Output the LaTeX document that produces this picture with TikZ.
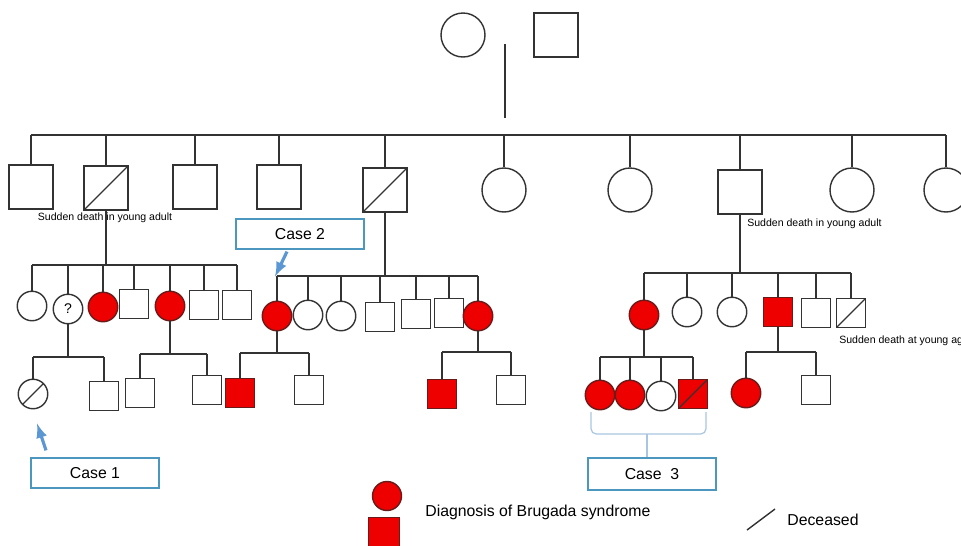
\documentclass[tikz,border=0pt]{standalone}
\usepackage{fontspec}
\setmainfont{Liberation Sans}
\usepackage{tikz}

\definecolor{linegray}{HTML}{333333}
\definecolor{bred}{HTML}{EE0000}
\definecolor{redline}{HTML}{6B1A1A}
\definecolor{boxblue}{HTML}{4C97C0}
\definecolor{arrowblue}{HTML}{5B97D2}
\definecolor{braceblue}{HTML}{A8C6E2}

\tikzset{
	kin/.style={linegray, line width=0.8pt},
	male/.style={draw=linegray, rectangle, line width=0.8pt, inner sep=0pt},
	female/.style={draw=linegray, circle, line width=0.8pt, inner sep=0pt},
	bigsym/.style={minimum size=0.88cm},
	smallsym/.style={minimum size=0.59cm},
	affected/.style={fill=bred, draw=redline},
	deceased/.style={path picture={\draw[linegray, line width=0.7pt] (path picture bounding box.south west) -- (path picture bounding box.north east);}},
	note/.style={font=\fontsize{6}{7}\selectfont, inner sep=0pt},
	casebox/.style={draw=boxblue, line width=0.7pt, minimum width=2.56cm, minimum height=0.6cm, font=\fontsize{9}{11}\selectfont},
	casearrow/.style={arrowblue, line width=1.8pt, ->, >=latex},
	legend/.style={font=\fontsize{9}{11}\selectfont, inner sep=0pt, anchor=west},
}

\begin{document}
\begin{tikzpicture}[x=0.02cm, y=-0.02cm]
\useasboundingbox (0,0) rectangle (961,545);
\clip (0,0) rectangle (961,545);

\node[female, bigsym] (gm) at (463,35) {};
\node[male, bigsym] (gf) at (556,35) {};
\coordinate (top) at (505,44);
\coordinate (topend) at (505,118);
\draw[kin] (top) -- (topend);

\coordinate (g2l) at (31,135);
\coordinate (g2r) at (946,135);
\draw[kin] (g2l) -- (g2r);

\node[male, bigsym] (b1) at (31,187) {};
\node[male, bigsym, deceased] (b2) at (106,188) {};
\node[male, bigsym] (b3) at (195,187) {};
\node[male, bigsym] (b4) at (279,187) {};
\node[male, bigsym, deceased] (b5) at (385,190) {};
\node[female, bigsym] (b6) at (504,190) {};
\node[female, bigsym] (b7) at (630,190) {};
\node[male, bigsym] (b8) at (740,192) {};
\node[female, bigsym] (b9) at (852,190) {};
\node[female, bigsym] (b10) at (946,190) {};
\foreach \n in {b1, b2, b3, b4, b5, b6, b7, b8, b9, b10} {
	\draw[kin] (\n.north) -- (\n.north |- g2l);
}

\node[note] (sd1) at (105,218) {Sudden death in young adult};
\node[note, anchor=west] (sd2) at (747,224) {Sudden death in young adult};

\coordinate (l3l) at (32,265);
\coordinate (l3r) at (237,265);
\draw[kin] (b2.south) -- (b2.south |- l3l);
\draw[kin] (l3l) -- (l3r);

\node[female, smallsym] (c1) at (32,306) {};
\node[female, smallsym, font=\fontsize{8}{9}\selectfont] (c2) at (68,309) {?};
\node[female, smallsym, affected] (c3) at (103,307) {};
\node[male, smallsym] (c4) at (134,304) {};
\node[female, smallsym, affected] (c5) at (170,306) {};
\node[male, smallsym] (c6) at (204,305) {};
\node[male, smallsym] (c7) at (237,305) {};
\foreach \n in {c1, c2, c3, c4, c5, c6, c7} {
	\draw[kin] (\n.north) -- (\n.north |- l3l);
}

\coordinate (l4a) at (33,357);
\coordinate (l4b) at (104,357);
\draw[kin] (c2.south) -- (c2.south |- l4a);
\draw[kin] (l4a) -- (l4b);
\node[female, smallsym, deceased] (d1) at (33,394) {};
\node[male, smallsym] (d2) at (104,396) {};

\coordinate (l4c) at (140,354);
\coordinate (l4d) at (207,354);
\draw[kin] (c5.south) -- (c5.south |- l4c);
\draw[kin] (l4c) -- (l4d);
\node[male, smallsym] (d3) at (140,393) {};
\node[male, smallsym] (d4) at (207,390) {};
\foreach \n/\b in {d1/l4a, d2/l4a, d3/l4c, d4/l4c} {
	\draw[kin] (\n.north) -- (\n.north |- \b);
}

\coordinate (m3l) at (277,276);
\coordinate (m3r) at (478,276);
\draw[kin] (b5.south) -- (b5.south |- m3l);
\draw[kin] (m3l) -- (m3r);

\node[female, smallsym, affected] (m1) at (277,316) {};
\node[female, smallsym] (m2) at (308,315) {};
\node[female, smallsym] (m3) at (341,316) {};
\node[male, smallsym] (m4) at (380,317) {};
\node[male, smallsym] (m5) at (416,314) {};
\node[male, smallsym] (m6) at (449,313) {};
\node[female, smallsym, affected] (m7) at (478,316) {};
\foreach \n in {m1, m2, m3, m4, m5, m6, m7} {
	\draw[kin] (\n.north) -- (\n.north |- m3l);
}

\coordinate (m4a) at (240,353);
\coordinate (m4b) at (309,353);
\draw[kin] (m1.south) -- (m1.south |- m4a);
\draw[kin] (m4a) -- (m4b);
\node[male, smallsym, affected] (n1) at (240,393) {};
\node[male, smallsym] (n2) at (309,390) {};

\coordinate (m4c) at (442,352);
\coordinate (m4d) at (511,352);
\draw[kin] (m7.south) -- (m7.south |- m4c);
\draw[kin] (m4c) -- (m4d);
\node[male, smallsym, affected] (n3) at (442,394) {};
\node[male, smallsym] (n4) at (511,390) {};
\foreach \n/\b in {n1/m4a, n2/m4a, n3/m4c, n4/m4c} {
	\draw[kin] (\n.north) -- (\n.north |- \b);
}

\coordinate (r3l) at (644,273);
\coordinate (r3r) at (851,273);
\draw[kin] (b8.south) -- (b8.south |- r3l);
\draw[kin] (r3l) -- (r3r);

\node[female, smallsym, affected] (r1) at (644,315) {};
\node[female, smallsym] (r2) at (687,312) {};
\node[female, smallsym] (r3) at (732,312) {};
\node[male, smallsym, affected] (r4) at (778,312) {};
\node[male, smallsym] (r5) at (816,313) {};
\node[male, smallsym, deceased] (r6) at (851,313) {};
\foreach \n in {r1, r2, r3, r4, r5, r6} {
	\draw[kin] (\n.north) -- (\n.north |- r3l);
}
\node[note, anchor=west] (sd3) at (839,341) {Sudden death at young age};

\coordinate (r4a) at (600,357);
\coordinate (r4b) at (693,357);
\draw[kin] (r1.south) -- (r1.south |- r4a);
\draw[kin] (r4a) -- (r4b);
\node[female, smallsym, affected] (s1) at (600,395) {};
\node[female, smallsym, affected] (s2) at (630,395) {};
\node[female, smallsym] (s3) at (661,396) {};
\node[male, smallsym, affected, deceased] (s4) at (693,394) {};

\coordinate (r4c) at (746,352);
\coordinate (r4d) at (816,352);
\draw[kin] (r4.south) -- (r4.south |- r4c);
\draw[kin] (r4c) -- (r4d);
\node[female, smallsym, affected] (s5) at (746,393) {};
\node[male, smallsym] (s6) at (816,390) {};
\foreach \n/\b in {s1/r4a, s2/r4a, s3/r4a, s4/r4a, s5/r4c, s6/r4c} {
	\draw[kin] (\n.north) -- (\n.north |- \b);
}

\node[casebox] (case1) at (95,473) {Case 1};
\node[casebox] (case2) at (300,234) {Case 2};
\node[casebox, minimum height=0.64cm] (case3) at (652,474) {Case\ \ 3};

\draw[casearrow] ([shift={(-49,-7)}]case1.north) -- ([shift={(4,14)}]d1.south);
\draw[casearrow] ([shift={(-13,2)}]case2.south) -- ([shift={(-2,-24)}]m1.north);

\coordinate (brl) at (591,412);
\coordinate (brr) at (706,412);
\coordinate (brm) at (647,434);
\draw[braceblue, line width=0.7pt, rounded corners=3pt] (brl) -- (brl |- brm) -- (brr |- brm) -- (brr);
\draw[braceblue, line width=0.7pt] (brm) -- (brm |- case3.north);

\node[female, minimum size=0.58cm, affected] (legf) at (387,496) {};
\node[male, minimum size=0.62cm, affected] (legm) at (384,533) {};
\node[legend] (legtxt) at (425,512) {Diagnosis of Brugada syndrome};

\coordinate (ds) at (747,530);
\coordinate (de) at (775,509);
\draw[kin] (ds) -- (de);
\node[legend] (legdead) at (787,520) {Deceased};

\end{tikzpicture}
\end{document}
